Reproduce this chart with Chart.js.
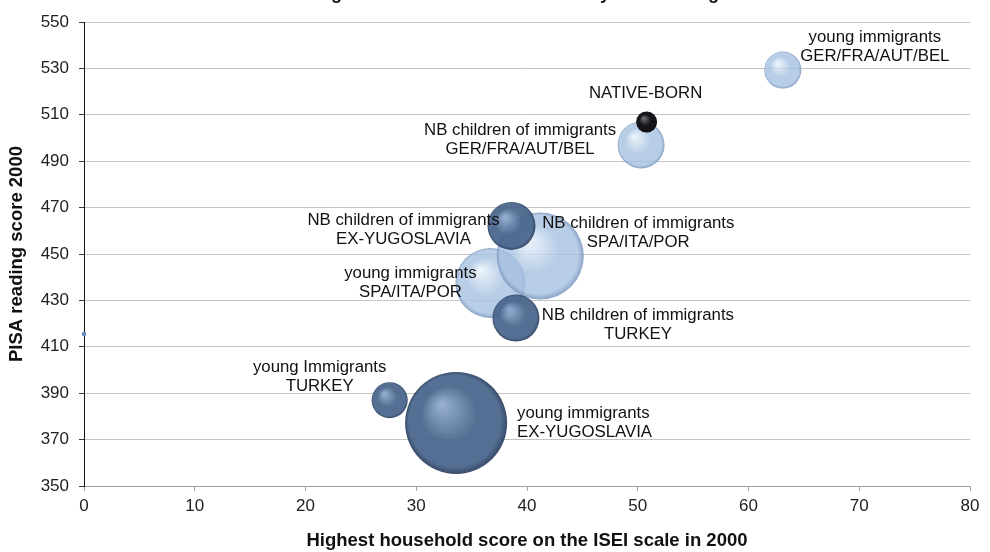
<!DOCTYPE html>
<html>
<head>
<meta charset="utf-8">
<script src="https://cdn.jsdelivr.net/npm/chart.js@4/dist/chart.umd.min.js"></script>
<style>
html,body{margin:0;padding:0;background:#fff;}
canvas{display:block;}
</style>
</head>
<body>
<canvas id="c" width="990" height="552"></canvas>
<script>
// ---- data ----
const chartTitle = 'Reading standards and social status by ISEI ranking';
const xAxisTitle = 'Highest household score on the ISEI scale in 2000';
const yAxisTitle = 'PISA reading score 2000';
const groupLabels = [
  ['young immigrants', 'EX-YUGOSLAVIA'],
  ['young Immigrants', 'TURKEY'],
  ['young immigrants', 'SPA/ITA/POR'],
  ['NB children of immigrants', 'SPA/ITA/POR'],
  ['NB children of immigrants', 'EX-YUGOSLAVIA'],
  ['NB children of immigrants', 'TURKEY'],
  ['NB children of immigrants', 'GER/FRA/AUT/BEL'],
  ['young immigrants', 'GER/FRA/AUT/BEL'],
  ['NATIVE-BORN'],
  ['']
];
const iseiScores    = [33.6, 27.6, 36.7, 41.2, 38.6, 39.0, 50.3, 63.1, 50.8, 0];
const readingScores = [377.2, 387.0, 437.5, 449.1, 462.1, 422.4, 497.0, 529.3, 506.9, 415.5];
const bubbleSizes   = [100, 12.5, 47.1, 72.8, 22.1, 21.2, 21.2, 13.2, 4.2, 0.2];
const groupTypes    = ['dark', 'dark', 'light', 'light', 'dark', 'dark', 'light', 'light', 'native', 'dot'];
const xTicks = [0, 10, 20, 30, 40, 50, 60, 70, 80];
const yTicks = [350, 370, 390, 410, 430, 450, 470, 490, 510, 530, 550];

// ---- styling ----
const FONT = '"Liberation Sans", Arial, sans-serif';
const MAX_R = 51;
const palette = {
  dark:   {hi: 'rgba(145,172,210,0.92)', base: 'rgba(70,99,138,0.92)', edge: 'rgba(40,60,92,0.92)'},
  light:  {hi: 'rgba(236,243,252,0.82)', base: 'rgba(168,194,225,0.82)', edge: 'rgba(118,148,190,0.85)'},
  native: {hi: 'rgba(120,120,120,1)', base: 'rgba(20,20,25,1)', edge: 'rgba(0,0,0,1)'},
  dot:    {hi: 'rgba(120,155,200,1)', base: 'rgba(100,140,190,1)', edge: 'rgba(90,125,175,1)'}
};
// label placement (pixel offsets from bubble centre, first-line middle)
const labelPlacement = [
  {dx: 61, dy: -10, align: 'left'},
  {dx: -70, dy: -33, align: 'center'},
  {dx: -80, dy: -10, align: 'center'},
  {dx: 98, dy: -33, align: 'center'},
  {dx: -108, dy: -6, align: 'center'},
  {dx: 122, dy: -3, align: 'center'},
  {dx: -121, dy: -15, align: 'center'},
  {dx: 92, dy: -33, align: 'center'},
  {dx: -1, dy: -29, align: 'center'},
  {dx: 0, dy: 0, align: 'center'}
];

const points = iseiScores.map((x, i) => ({x: x, y: readingScores[i], r: MAX_R * Math.sqrt(bubbleSizes[i] / 100)}));

function bubbleFill(ctx) {
  if (ctx.type !== 'data' || ctx.dataIndex == null) return 'rgba(0,0,0,0)';
  const pal = palette[groupTypes[ctx.dataIndex]];
  const chart = ctx.chart;
  const p = ctx.raw;
  const xs = chart.scales && chart.scales.x, ys = chart.scales && chart.scales.y;
  if (!xs || !ys || !p) return pal.base;
  const cx = xs.getPixelForValue(p.x);
  const cy = ys.getPixelForValue(p.y);
  const r = Math.max(p.r, 0.5);
  if (!isFinite(cx) || !isFinite(cy)) return pal.base;
  const g = chart.ctx.createRadialGradient(cx - 0.3 * r, cy - 0.38 * r, 0, cx, cy, r);
  g.addColorStop(0, pal.hi);
  g.addColorStop(0.55, pal.base);
  g.addColorStop(0.9, pal.base);
  g.addColorStop(1, pal.edge);
  return g;
}

const labelPlugin = {
  id: 'bubbleLabels',
  afterDatasetsDraw(chart) {
    const c = chart.ctx;
    const meta = chart.getDatasetMeta(0);
    c.save();
    c.font = '16.8px ' + FONT;
    c.fillStyle = '#111';
    c.textBaseline = 'middle';
    meta.data.forEach((el, i) => {
      const lines = groupLabels[i];
      const pl = labelPlacement[i];
      c.textAlign = pl.align;
      lines.forEach((t, k) => {
        c.fillText(t, el.x + pl.dx, el.y + pl.dy + k * 19.5);
      });
    });
    c.restore();
  }
};

const titlePlugin = {
  id: 'clippedTitle',
  afterDraw(chart) {
    const c = chart.ctx;
    c.save();
    c.font = 'bold 18px ' + FONT;
    c.fillStyle = '#111';
    c.textAlign = 'center';
    c.textBaseline = 'alphabetic';
    c.fillText(chartTitle, 495, -1);
    c.restore();
  }
};

const chart = new Chart(document.getElementById('c'), {
  type: 'bubble',
  data: {
    datasets: [{
      data: points,
      backgroundColor: bubbleFill,
      borderWidth: 0,
      hoverBorderWidth: 0,
      clip: false
    }]
  },
  options: {
    responsive: false,
    animation: false,
    events: [],
    layout: {padding: {top: 22, right: 20, left: 0, bottom: 0}},
    plugins: {legend: {display: false}, tooltip: {enabled: false}, title: {display: false}},
    scales: {
      x: {
        type: 'linear',
        min: 0, max: 80,
        afterBuildTicks: (s) => { s.ticks = xTicks.map(v => ({value: v})); },
        afterFit: (s) => { s.height = 66; },
        ticks: {color: '#222', font: {family: FONT, size: 17}, padding: 5, maxRotation: 0},
        grid: {drawOnChartArea: false, tickLength: 5, tickColor: '#a0a0a0'},
        border: {color: '#a0a0a0', width: 1},
        title: {display: true, text: xAxisTitle, color: '#111', font: {family: FONT, size: 18.5, weight: 'bold'}, padding: {top: 0, bottom: 0}}
      },
      y: {
        type: 'linear',
        min: 350, max: 550,
        afterBuildTicks: (s) => { s.ticks = yTicks.map(v => ({value: v})); },
        afterFit: (s) => { s.width = 84; },
        ticks: {color: '#222', font: {family: FONT, size: 17}, padding: 10},
        grid: {color: '#c4c4c4', lineWidth: 1, tickLength: 5, tickColor: '#333'},
        border: {color: '#111', width: 1},
        title: {display: true, text: yAxisTitle, color: '#111', font: {family: FONT, size: 18.5, weight: 'bold'}, padding: {top: 6, bottom: 0}}
      }
    }
  },
  plugins: [labelPlugin, titlePlugin]
});
// the bubbles may overlap the frame, as in the reference: don't reserve extra layout padding for them
chart.getDatasetMeta(0).controller.getMaxOverflow = () => 0;
chart.update('none');
</script>
</body>
</html>
